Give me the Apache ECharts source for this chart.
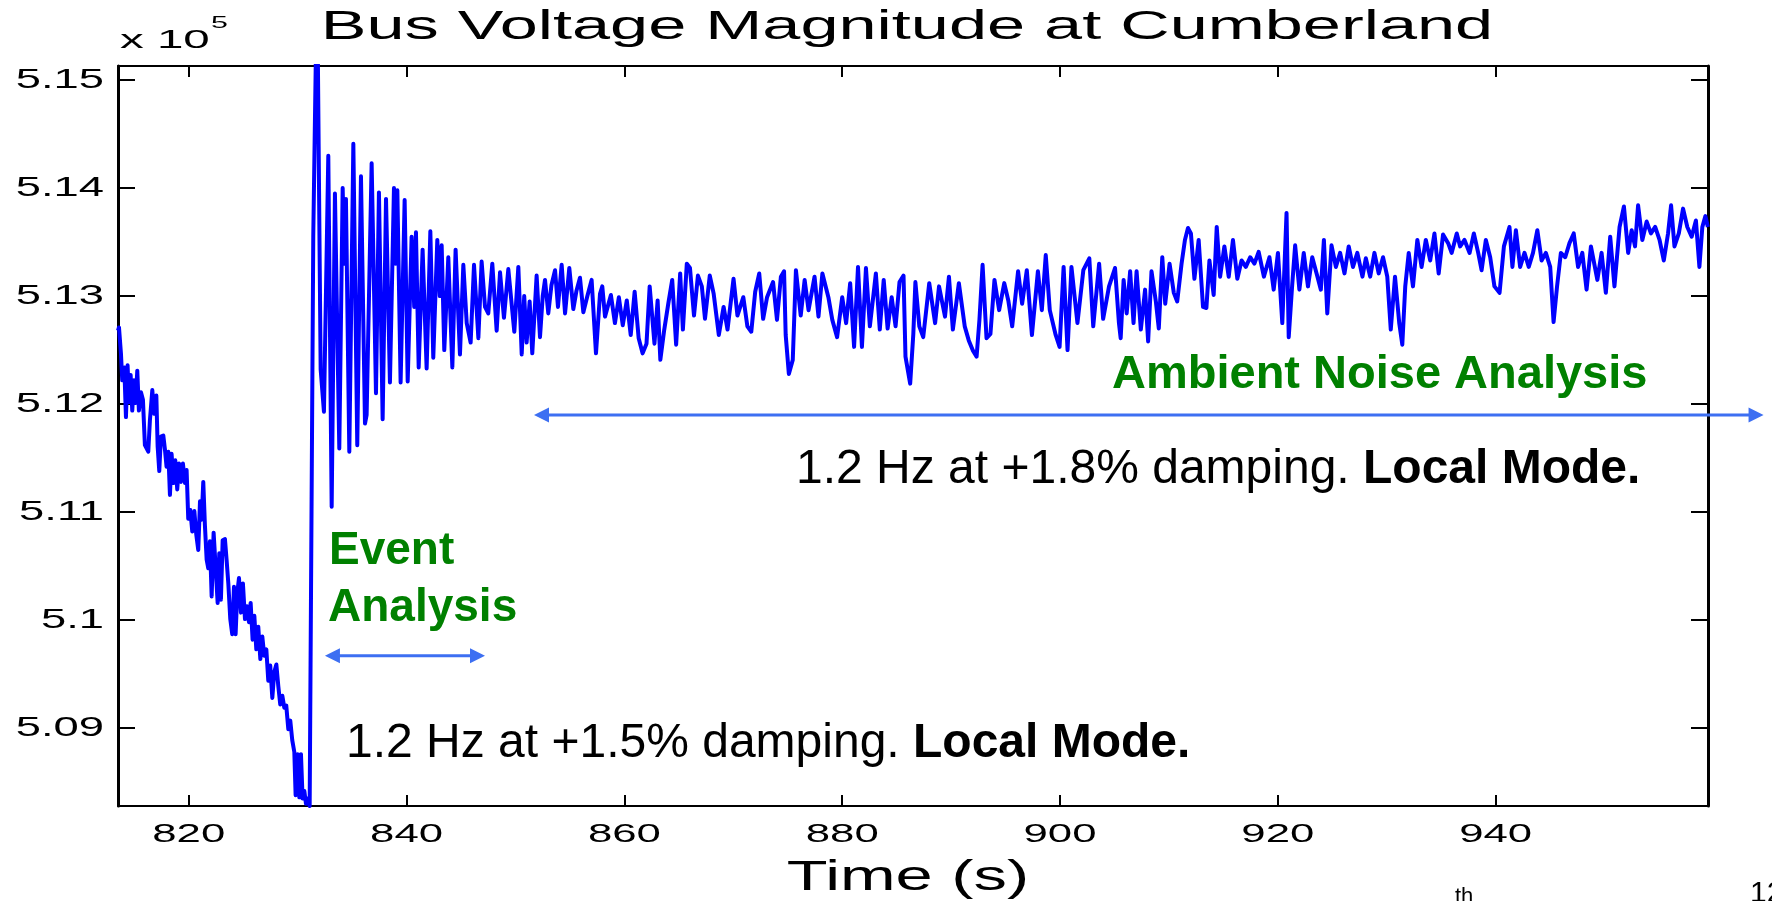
<!DOCTYPE html>
<html>
<head>
<meta charset="utf-8">
<title>Bus Voltage Magnitude at Cumberland</title>
<script src="https://cdn.jsdelivr.net/npm/echarts@6.0.0/dist/echarts.min.js"></script>
<style>
  html, body { margin: 0; padding: 0; background: #fff; }
  #chart { width: 1772px; height: 901px; }
</style>
</head>
<body>
<div id="chart"></div>
<script>
// time (s), bus voltage (x 10^5 V)
var preEvent = [
  [813.50, 5.1268], [813.59, 5.1271], [813.77, 5.1247], [813.89, 5.1222], [814.08, 5.1234],
  [814.23, 5.1188], [814.38, 5.1236], [814.51, 5.1202], [814.66, 5.1227], [814.81, 5.1194],
  [814.96, 5.1222], [815.12, 5.1201], [815.27, 5.1231], [815.42, 5.1194], [815.61, 5.1211],
  [815.79, 5.1204], [815.97, 5.1162], [816.28, 5.1156], [816.43, 5.1185], [816.65, 5.1213],
  [816.83, 5.1191], [817.02, 5.1208], [817.14, 5.1161], [817.29, 5.1138], [817.44, 5.1170],
  [817.66, 5.1171], [817.81, 5.1158], [817.96, 5.1142], [818.12, 5.1156], [818.27, 5.1116],
  [818.42, 5.1154], [818.61, 5.1127], [818.76, 5.1148], [818.94, 5.1121], [819.10, 5.1145],
  [819.28, 5.1128], [819.46, 5.1145], [819.65, 5.1127], [819.80, 5.1139], [819.95, 5.1094],
  [820.14, 5.1102], [820.32, 5.1082], [820.51, 5.1101], [820.69, 5.1079], [820.87, 5.1065],
  [821.03, 5.1110], [821.18, 5.1093], [821.33, 5.1128], [821.48, 5.1088], [821.64, 5.1056],
  [821.79, 5.1048], [821.94, 5.1073], [822.10, 5.1022], [822.28, 5.1081], [822.46, 5.1050],
  [822.65, 5.1016], [822.80, 5.1062], [822.95, 5.1019], [823.11, 5.1074], [823.32, 5.1075],
  [823.47, 5.1056], [823.63, 5.1034], [823.81, 5.1001], [823.99, 5.0987], [824.15, 5.1031],
  [824.30, 5.0987], [824.45, 5.1025], [824.61, 5.1039], [824.79, 5.1007], [824.97, 5.1034],
  [825.16, 5.1001], [825.34, 5.1013], [825.53, 5.0998], [825.68, 5.1016], [825.86, 5.0982],
  [826.02, 5.1004], [826.20, 5.0973], [826.38, 5.0994], [826.57, 5.0964], [826.75, 5.0985],
  [826.93, 5.0967], [827.12, 5.0973], [827.30, 5.0944], [827.48, 5.0958], [827.67, 5.0928],
  [827.85, 5.0952], [828.04, 5.0959], [828.22, 5.0939], [828.40, 5.0922], [828.59, 5.0930],
  [828.77, 5.0919], [828.95, 5.0921], [829.14, 5.0899], [829.32, 5.0907], [829.50, 5.0889],
  [829.69, 5.0878], [829.81, 5.0838], [829.99, 5.0876], [830.15, 5.0836], [830.30, 5.0876],
  [830.45, 5.0835], [830.61, 5.0842], [830.76, 5.0830], [830.91, 5.0835], [831.10, 5.0828],
  [831.28, 5.0828]
];

var faultJump = [[831.43, 5.1355], [831.78, 5.1600]];

var eventSwing = [
  [832.11, 5.1232], [832.41, 5.1193], [832.81, 5.1430], [833.12, 5.1105], [833.42, 5.1395],
  [833.82, 5.1159], [834.13, 5.1400], [834.28, 5.1330], [834.43, 5.1390], [834.74, 5.1156],
  [835.11, 5.1441], [835.47, 5.1162], [835.81, 5.1411], [836.18, 5.1182], [836.33, 5.1190],
  [836.79, 5.1423], [837.19, 5.1210], [837.46, 5.1396], [837.80, 5.1186], [838.11, 5.1390],
  [838.47, 5.1220], [838.84, 5.1400], [839.00, 5.1330], [839.15, 5.1398], [839.45, 5.1220],
  [839.82, 5.1389], [840.10, 5.1221], [840.46, 5.1355], [840.70, 5.1290], [840.86, 5.1359],
  [841.11, 5.1234], [841.47, 5.1343], [841.84, 5.1233], [842.18, 5.1360], [842.45, 5.1243],
  [842.82, 5.1352], [843.05, 5.1300], [843.22, 5.1347], [843.46, 5.1250], [843.83, 5.1336],
  [844.20, 5.1234], [844.50, 5.1343], [844.90, 5.1246], [845.21, 5.1329], [845.52, 5.1275],
  [845.88, 5.1257], [846.19, 5.1329], [846.59, 5.1261], [846.89, 5.1332], [847.20, 5.1290],
  [847.50, 5.1284], [847.87, 5.1330], [848.27, 5.1268], [848.58, 5.1322], [848.94, 5.1280],
  [849.34, 5.1325], [849.89, 5.1267], [850.26, 5.1327], [850.57, 5.1246], [850.80, 5.1300],
  [851.02, 5.1257], [851.30, 5.1295], [851.54, 5.1247], [851.94, 5.1319], [852.25, 5.1262],
  [852.50, 5.1300], [852.71, 5.1315], [853.01, 5.1284], [853.30, 5.1310], [853.63, 5.1324],
  [853.90, 5.1290], [854.24, 5.1329], [854.55, 5.1284], [854.94, 5.1326], [855.31, 5.1288],
  [855.60, 5.1305], [855.92, 5.1317], [856.23, 5.1285], [856.60, 5.1300], [856.99, 5.1315],
  [857.39, 5.1247], [857.76, 5.1302]
];

var ambientEarly = [
  [857.97, 5.1309], [858.22, 5.1281], [858.76, 5.1301], [859.13, 5.1275], [859.49, 5.1299],
  [859.85, 5.1273], [860.22, 5.1296], [860.58, 5.1264], [860.94, 5.1304], [861.31, 5.1261],
  [861.67, 5.1247], [862.03, 5.1256], [862.32, 5.1309], [862.76, 5.1256], [863.05, 5.1296],
  [863.30, 5.1241], [863.66, 5.1269], [864.03, 5.1293], [864.39, 5.1315], [864.75, 5.1255],
  [865.12, 5.1321], [865.37, 5.1269], [865.73, 5.1330], [866.02, 5.1326], [866.39, 5.1282],
  [866.75, 5.1319], [867.11, 5.1309], [867.40, 5.1279], [867.84, 5.1319], [868.20, 5.1302],
  [868.67, 5.1264], [869.11, 5.1290], [869.47, 5.1269], [870.02, 5.1316], [870.38, 5.1282],
  [870.92, 5.1299], [871.29, 5.1272], [871.65, 5.1267], [872.01, 5.1304], [872.38, 5.1321],
  [872.74, 5.1279], [873.10, 5.1299], [873.65, 5.1313], [874.01, 5.1278], [874.37, 5.1318],
  [874.66, 5.1323], [874.81, 5.1264], [875.10, 5.1228], [875.46, 5.1241], [875.75, 5.1324],
  [876.19, 5.1282], [876.55, 5.1315], [876.91, 5.1287], [877.46, 5.1318], [877.82, 5.1281],
  [878.18, 5.1321], [878.73, 5.1299], [879.09, 5.1278], [879.53, 5.1262], [880.00, 5.1299],
  [880.36, 5.1275], [880.73, 5.1312], [881.09, 5.1253], [881.45, 5.1327], [881.81, 5.1253],
  [882.18, 5.1326], [882.54, 5.1272], [883.09, 5.1321], [883.45, 5.1269], [883.81, 5.1315],
  [884.17, 5.1270], [884.54, 5.1299], [884.90, 5.1272], [885.26, 5.1313], [885.63, 5.1319],
  [885.81, 5.1244], [886.24, 5.1219], [886.53, 5.1265], [886.72, 5.1313], [887.08, 5.1272],
  [887.44, 5.1262], [887.99, 5.1312], [888.53, 5.1275], [888.89, 5.1309], [889.44, 5.1281],
  [889.80, 5.1318], [890.16, 5.1269], [890.71, 5.1312], [891.25, 5.1272], [891.62, 5.1259],
  [891.98, 5.1250], [892.34, 5.1244], [892.60, 5.1278], [892.89, 5.1329], [893.25, 5.1261],
  [893.61, 5.1265], [893.98, 5.1315], [894.41, 5.1287], [894.88, 5.1312], [895.25, 5.1296],
  [895.61, 5.1272], [896.15, 5.1323], [896.52, 5.1293], [896.95, 5.1324], [897.42, 5.1264],
  [897.97, 5.1323], [898.33, 5.1287], [898.69, 5.1338], [899.06, 5.1287], [899.60, 5.1264],
  [899.96, 5.1253], [900.33, 5.1327], [900.69, 5.1250], [901.05, 5.1327], [901.60, 5.1275],
  [902.14, 5.1324], [902.69, 5.1335], [903.05, 5.1272], [903.59, 5.1330], [903.96, 5.1279],
  [904.50, 5.1309], [905.05, 5.1326], [905.41, 5.1275]
];

var ambientLate = [
  [905.57, 5.1261], [905.84, 5.1315], [906.12, 5.1284], [906.44, 5.1323], [906.75, 5.1275],
  [907.03, 5.1323], [907.42, 5.1269], [907.81, 5.1306], [908.09, 5.1258], [908.40, 5.1323],
  [908.80, 5.1295], [909.07, 5.1270], [909.39, 5.1336], [909.66, 5.1293], [910.06, 5.1330],
  [910.45, 5.1303], [910.76, 5.1295], [911.16, 5.1330], [911.47, 5.1352], [911.75, 5.1363],
  [912.02, 5.1358], [912.34, 5.1316], [912.73, 5.1352], [913.13, 5.1290], [913.44, 5.1289],
  [913.72, 5.1333], [914.11, 5.1301], [914.39, 5.1364], [914.70, 5.1318], [915.09, 5.1346],
  [915.49, 5.1318], [915.88, 5.1352], [916.28, 5.1316], [916.67, 5.1333], [917.06, 5.1327],
  [917.46, 5.1336], [917.85, 5.1330], [918.24, 5.1341], [918.72, 5.1318], [919.23, 5.1336],
  [919.62, 5.1306], [920.01, 5.1340], [920.41, 5.1275], [920.80, 5.1377], [921.00, 5.1262],
  [921.31, 5.1309], [921.59, 5.1347], [921.98, 5.1306], [922.38, 5.1340], [922.77, 5.1309],
  [923.16, 5.1336], [923.56, 5.1321], [923.95, 5.1306], [924.23, 5.1352], [924.54, 5.1284],
  [924.93, 5.1347], [925.33, 5.1327], [925.72, 5.1340], [926.12, 5.1321], [926.51, 5.1346],
  [926.90, 5.1327], [927.30, 5.1340], [927.77, 5.1318], [928.08, 5.1335], [928.48, 5.1318],
  [928.87, 5.1340], [929.26, 5.1321], [929.66, 5.1336], [930.05, 5.1318], [930.37, 5.1269],
  [930.76, 5.1318], [931.15, 5.1275], [931.43, 5.1255], [931.70, 5.1309], [932.02, 5.1340],
  [932.41, 5.1309], [932.81, 5.1352], [933.20, 5.1327], [933.59, 5.1352], [933.99, 5.1333],
  [934.38, 5.1358], [934.77, 5.1321], [935.17, 5.1357], [935.64, 5.1349], [935.96, 5.1340],
  [936.43, 5.1358], [936.74, 5.1346], [937.14, 5.1352], [937.61, 5.1340], [938.00, 5.1358],
  [938.40, 5.1340], [938.71, 5.1324], [939.10, 5.1352], [939.50, 5.1336], [939.89, 5.1309],
  [940.36, 5.1303], [940.76, 5.1346], [941.27, 5.1364], [941.54, 5.1327], [941.86, 5.1361],
  [942.25, 5.1327], [942.65, 5.1340], [943.04, 5.1327], [943.43, 5.1340], [943.83, 5.1361],
  [944.22, 5.1333], [944.61, 5.1340], [945.01, 5.1327], [945.32, 5.1276], [945.64, 5.1309],
  [945.99, 5.1340], [946.39, 5.1336], [946.78, 5.1349], [947.17, 5.1358], [947.57, 5.1327],
  [947.96, 5.1340], [948.35, 5.1306], [948.75, 5.1346], [949.34, 5.1315], [949.73, 5.1340],
  [950.12, 5.1303], [950.52, 5.1355], [950.91, 5.1309], [951.38, 5.1364], [951.78, 5.1383],
  [952.17, 5.1340], [952.49, 5.1361], [952.80, 5.1346], [953.08, 5.1384], [953.47, 5.1352],
  [953.87, 5.1369], [954.26, 5.1358], [954.65, 5.1364], [955.05, 5.1352], [955.44, 5.1333],
  [955.83, 5.1358], [956.11, 5.1384], [956.42, 5.1346], [956.82, 5.1358], [957.21, 5.1381],
  [957.60, 5.1364], [958.00, 5.1355], [958.39, 5.1370], [958.71, 5.1327], [958.98, 5.1364],
  [959.26, 5.1374], [959.49, 5.1364]
];

var timeRange = [813.5, 959.5];
var voltRange = [5.0828, 5.1513];
var timeTicks = [820, 840, 860, 880, 900, 920, 940];
var voltTicks = [5.09, 5.10, 5.11, 5.12, 5.13, 5.14, 5.15];

// annotation arrows, in data units
var eventArrow = { from: 832.5, to: 847.2, at: 5.0967 };
var ambientArrow = { from: 851.7, to: 964.6, at: 5.1190 };

var FONT = '"Liberation Sans", Arial, Helvetica, sans-serif';
var ARROW_BLUE = '#3d6ff2';
var NOTE_GREEN = '#008000';

var chart = echarts.init(document.getElementById('chart'), null, { renderer: 'canvas' });

var sideAxis = function (pos, isX) {
    return {
        type: 'value',
        position: pos,
        min: isX ? timeRange[0] : voltRange[0],
        max: isX ? timeRange[1] : voltRange[1],
        splitNumber: isX ? 7 : 6,
        scale: true,
        splitLine: { show: false },
        axisLine: { show: true, onZero: false, lineStyle: { color: '#000', width: isX ? 2 : 3 } },
        axisTick: { show: true, inside: true, length: isX ? 11 : 17, lineStyle: { color: '#000', width: 2 } },
        // labels are drawn below, stretched sideways like the matlab export
        axisLabel: { show: false }
    };
};

chart.setOption({
    backgroundColor: '#fff',
    animation: false,
    grid: { left: 118, right: 64, top: 66, bottom: 95, containLabel: false },
    xAxis: [sideAxis('bottom', true), sideAxis('top', true)],
    yAxis: [sideAxis('left', false), sideAxis('right', false)],
    series: [{
        name: 'Bus voltage',
        type: 'line',
        xAxisIndex: 0,
        yAxisIndex: 0,
        showSymbol: false,
        clip: true,
        lineStyle: { color: '#0000ff', width: 4, join: 'round' },
        data: preEvent.concat(faultJump, eventSwing, ambientEarly, ambientLate)
    }]
});

var toPx = function (t, v) {
    return chart.convertToPixel({ xAxisIndex: 0, yAxisIndex: 0 }, [t, v]);
};

function doubleArrow(spec) {
    var a = toPx(spec.from, spec.at);
    var b = toPx(spec.to, spec.at);
    var y = a[1], head = 15, half = 7.5;
    return [
        { type: 'line', shape: { x1: a[0] + head - 2, y1: y, x2: b[0] - head + 2, y2: y },
          style: { stroke: ARROW_BLUE, lineWidth: 3 }, z: 100 },
        { type: 'polygon', shape: { points: [[a[0], y], [a[0] + head, y - half], [a[0] + head, y + half]] },
          style: { fill: ARROW_BLUE }, z: 100 },
        { type: 'polygon', shape: { points: [[b[0], y], [b[0] - head, y - half], [b[0] - head, y + half]] },
          style: { fill: ARROW_BLUE }, z: 100 }
    ];
}

function label(text, x, y, size, opts) {
    opts = opts || {};
    return {
        type: 'text', x: x, y: y, scaleX: opts.scaleX || 1, z: 100,
        style: {
            text: text, fontSize: size, fontFamily: FONT, fontWeight: opts.bold ? 'bold' : 'normal',
            fill: opts.color || '#000', align: opts.align || 'left', verticalAlign: 'middle',
            rich: opts.rich
        }
    };
}

var noteRich = function (size) {
    return {
        r: { fontSize: size, fontFamily: FONT, color: '#000' },
        b: { fontSize: size, fontFamily: FONT, color: '#000', fontWeight: 'bold' }
    };
};

var gridBottom = toPx(timeRange[0], voltRange[0])[1];
var gridLeft = toPx(timeRange[0], voltRange[0])[0];

var tickLabels = timeTicks.map(function (t) {
    return label(String(t), toPx(t, voltRange[0])[0], gridBottom + 29, 25, { align: 'center', scaleX: 1.75 });
}).concat(voltTicks.map(function (v) {
    return label(String(parseFloat(v.toFixed(2))), gridLeft - 14, toPx(timeRange[0], v)[1], 28,
        { align: 'right', scaleX: 1.62 });
}));

var graphics = []
    .concat(doubleArrow(eventArrow))
    .concat(doubleArrow(ambientArrow))
    .concat(tickLabels)
    .concat([
        label('Bus Voltage Magnitude at Cumberland', 907, 28, 41, { align: 'center', scaleX: 1.67 }),
        label('x 10', 120, 41, 25, { scaleX: 1.9 }),
        label('5', 211, 24, 16, { scaleX: 1.9 }),
        label('Time (s)', 908, 878, 42, { align: 'center', scaleX: 1.59 }),
        label('Event', 329, 551, 46, { bold: true, color: NOTE_GREEN }),
        label('Analysis', 328, 608, 46, { bold: true, color: NOTE_GREEN }),
        label('Ambient Noise Analysis', 1112, 375, 47, { bold: true, color: NOTE_GREEN }),
        label('{r|1.2 Hz at +1.8% damping. }{b|Local Mode.}', 796, 470, 48, { rich: noteRich(48) }),
        label('{r|1.2 Hz at +1.5% damping. }{b|Local Mode.}', 346, 744, 48, { rich: noteRich(48) }),
        label('th', 1455, 897, 22),
        label('12', 1750, 894, 30)
    ]);

chart.setOption({ graphic: graphics });
</script>
</body>
</html>
